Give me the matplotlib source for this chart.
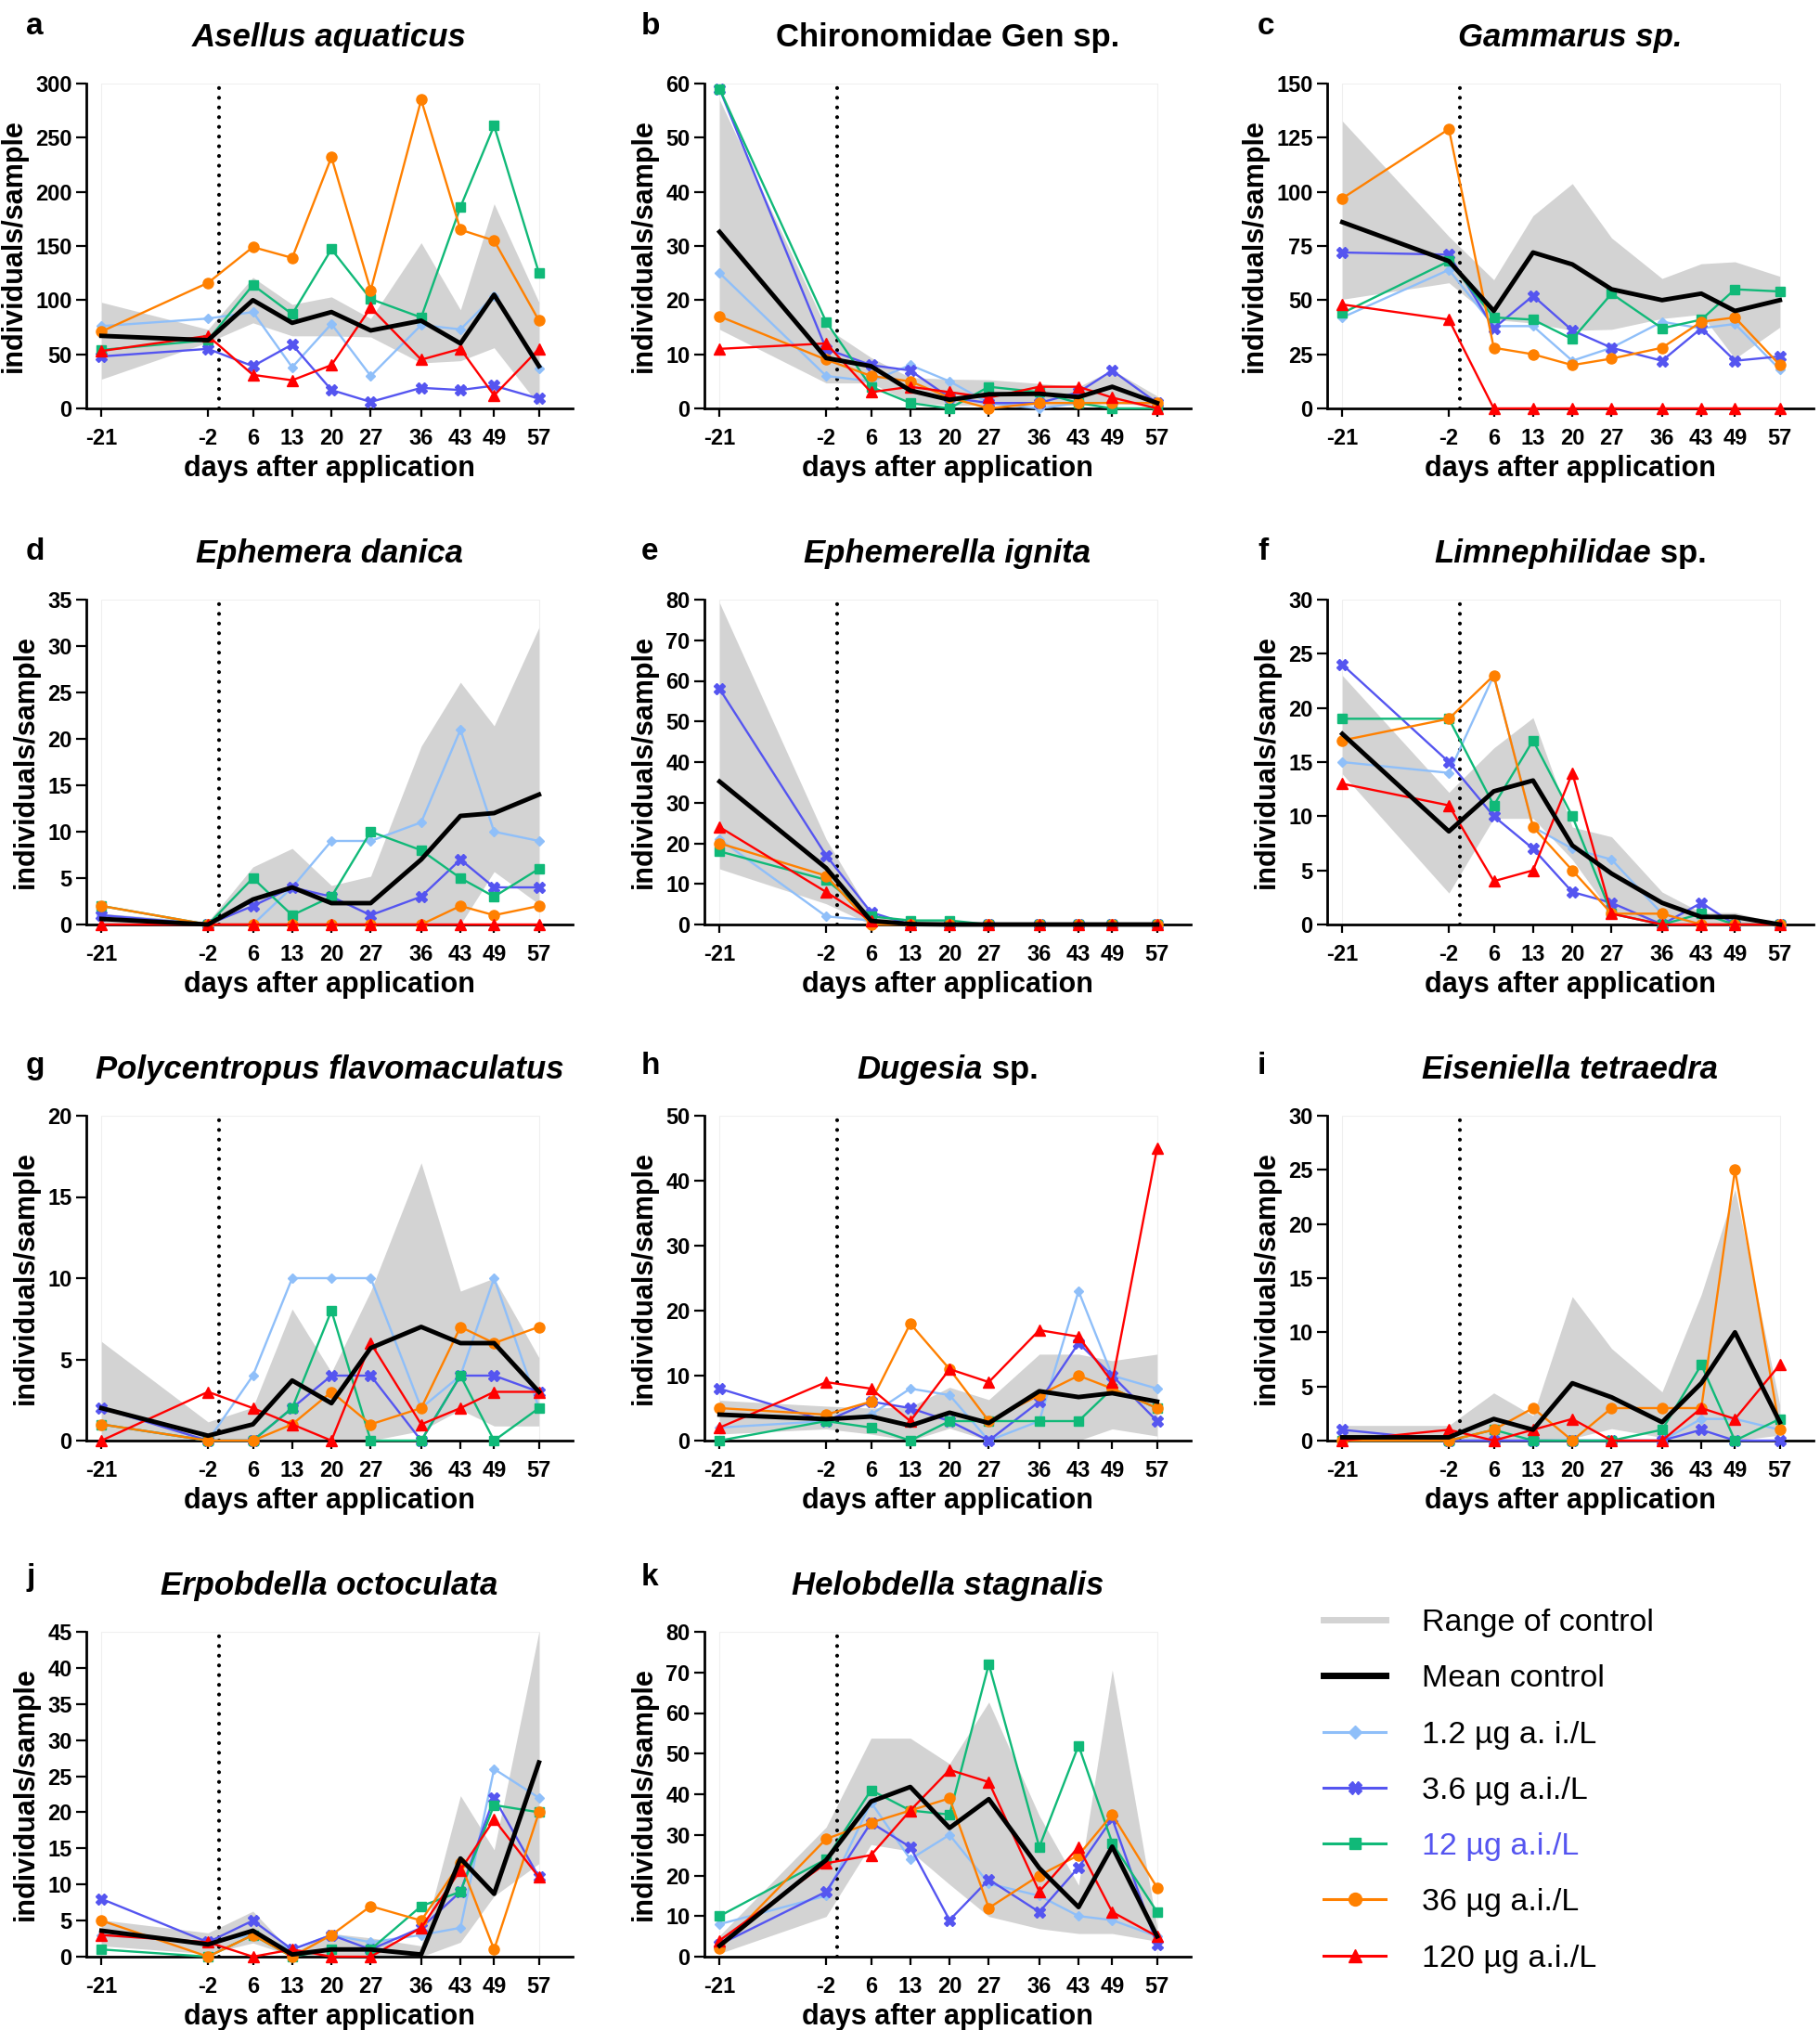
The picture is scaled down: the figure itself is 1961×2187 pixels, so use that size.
import matplotlib
matplotlib.use("Agg")
import matplotlib.pyplot as plt
from matplotlib.lines import Line2D
from matplotlib.patches import Rectangle

# ---------------- data ----------------
DAYS = [-21, -2, 6, 13, 20, 27, 36, 43, 49, 57]
DAY_LABELS = ["-21", "-2", "6", "13", "20", "27", "36", "43", "49", "57"]
SERIES_LABELS = ["Range of control", "Mean control", "1.2 µg a. i./L", "3.6 µg a.i./L",
                 "12 µg a.i./L", "36 µg a.i./L", "120 µg a.i./L"]

# a  Asellus aquaticus
A_LO = [27, 61, 79, 67, 67, 66, 42, 44, 56, 3]
A_HI = [98, 73, 121, 96, 103, 83, 153, 91, 189, 98]
A_MEAN = [67, 63, 100, 79, 89, 72, 81, 60, 105, 39]
A_1_2 = [76, 83, 89, 38, 78, 30, 77, 73, 104, 37]
A_3_6 = [48, 55, 39, 59, 17, 6, 19, 17, 21, 9]
A_12 = [54, 63, 114, 87, 147, 101, 84, 186, 261, 125]
A_36 = [71, 116, 149, 139, 232, 109, 285, 165, 155, 81]
A_120 = [53, 67, 31, 26, 40, 93, 45, 55, 12, 55]

# b  Chironomidae Gen sp.
B_LO = [14.6, 4.7, 4.7, 1.1, 0.6, 0.6, 0.6, 0.6, 1.1, 0.3]
B_HI = [57, 14.9, 9.4, 5.7, 5.4, 5.3, 4.6, 4, 7.1, 2.3]
B_MEAN = [32.6, 9.3, 7.8, 3.3, 1.6, 2.6, 2.7, 2.1, 4, 1]
B_1_2 = [25, 6, 5, 8, 5, 1, 0, 1, 1, 1]
B_3_6 = [59, 11, 8, 7, 2, 1, 1, 3, 7, 1]
B_12 = [59, 16, 4, 1, 0, 4, 3, 1, 0, 0]
B_36 = [17, 9, 6, 5, 2, 0, 1, 1, 1, 1]
B_120 = [11, 12, 3, 4, 3, 2, 4, 4, 2, 0]

# c  Gammarus sp.
C_LO = [50.4, 58, 41, 39.4, 36, 36.5, 41.5, 43.4, 23, 37.5]
C_HI = [132.7, 79.4, 59.4, 89, 103.8, 78.7, 60, 66.8, 67.7, 61]
C_MEAN = [86, 68, 45, 72, 66.5, 55, 50, 53, 45, 50]
C_1_2 = [42, 64, 38, 38, 22, 28, 40, 37, 39, 18]
C_3_6 = [72, 71, 37, 52, 36, 28, 22, 37, 22, 24]
C_12 = [44, 68, 42, 41, 32, 53, 37, 41, 55, 54]
C_36 = [97, 129, 28, 25, 20, 23, 28, 40, 42, 20]
C_120 = [48, 41, 0, 0, 0, 0, 0, 0, 0, 0]

# d  Ephemera danica
D_LO = [0, 0, 0, 0, 0, 0, 0, 0, 5.7, 2.2]
D_HI = [1.2, 0.3, 6.2, 8.2, 4.2, 5.2, 19.2, 26.1, 21.4, 32]
D_MEAN = [0.6, 0, 2.7, 4, 2.3, 2.3, 7, 11.7, 12, 14]
D_1_2 = [1, 0, 0, 4, 9, 9, 11, 21, 10, 9]
D_3_6 = [1, 0, 2, 4, 3, 1, 3, 7, 4, 4]
D_12 = [2, 0, 5, 1, 3, 10, 8, 5, 3, 6]
D_36 = [2, 0, 0, 0, 0, 0, 0, 2, 1, 2]
D_120 = [0, 0, 0, 0, 0, 0, 0, 0, 0, 0]

# e  Ephemerella ignita
E_LO = [13.7, 5.1, 0, 0, 0, 0, 0, 0, 0, 0]
E_HI = [79.2, 21, 2.4, 0.3, 0.3, 0, 0, 0, 0, 0]
E_MEAN = [35.2, 13.9, 0.9, 0.1, 0, 0, 0, 0, 0, 0]
E_1_2 = [21, 2, 1, 0, 0, 0, 0, 0, 0, 0]
E_3_6 = [58, 17, 3, 0, 0, 0, 0, 0, 0, 0]
E_12 = [18, 11, 2, 1, 1, 0, 0, 0, 0, 0]
E_36 = [20, 12, 0, 0, 0, 0, 0, 0, 0, 0]
E_120 = [24, 8, 1, 0, 0, 0, 0, 0, 0, 0]

# f  Limnephilidae sp.
F_LO = [13.9, 2.9, 9.8, 9.8, 6, 1, 0, 0, 0, 0]
F_HI = [23, 12.2, 16.3, 19.1, 9, 8.1, 3, 1.1, 1.1, 0.1]
F_MEAN = [17.6, 8.6, 12.3, 13.3, 7.3, 4.7, 2, 0.7, 0.7, 0]
F_1_2 = [15, 14, 23, 9, 7, 6, 1, 0, 0, 0]
F_3_6 = [24, 15, 10, 7, 3, 2, 0, 2, 0, 0]
F_12 = [19, 19, 11, 17, 10, 1, 0, 1, 0, 0]
F_36 = [17, 19, 23, 9, 5, 1, 1, 0, 0, 0]
F_120 = [13, 11, 4, 5, 14, 1, 0, 0, 0, 0]

# g  Polycentropus flavomaculatus
G_LO = [0, 0, 0, 0, 0, 0, 0.6, 1.9, 0.9, 0.9]
G_HI = [6.1, 1.15, 2.05, 8.1, 4.2, 9.2, 17.1, 9.2, 10, 5.1]
G_MEAN = [2, 0.3, 1, 3.7, 2.3, 5.7, 7, 6, 6, 3]
G_1_2 = [1, 0, 4, 10, 10, 10, 2, 4, 10, 2]
G_3_6 = [2, 0, 0, 2, 4, 4, 0, 4, 4, 3]
G_12 = [1, 0, 0, 2, 8, 0, 0, 4, 0, 2]
G_36 = [1, 0, 0, 1, 3, 1, 2, 7, 6, 7]
G_120 = [0, 3, 2, 1, 0, 6, 1, 2, 3, 3]

# h  Dugesia sp.
H_LO = [1, 1.8, 1, 0, 1.9, 0, 0, 0, 1.8, 0.7]
H_HI = [6.2, 5.3, 5, 5.2, 8.2, 6.3, 13.3, 13.3, 12.3, 13.3]
H_MEAN = [4, 3.3, 3.7, 2.3, 4.3, 2.7, 7.6, 6.7, 7.3, 6]
H_1_2 = [2, 3, 4, 8, 7, 0, 3, 23, 10, 8]
H_3_6 = [8, 3, 6, 5, 3, 0, 6, 15, 10, 3]
H_12 = [0, 3, 2, 0, 3, 3, 3, 3, 8, 5]
H_36 = [5, 4, 6, 18, 11, 3, 7, 10, 8, 5]
H_120 = [2, 9, 8, 3, 11, 9, 17, 16, 9, 45]

# i  Eiseniella tetraedra
I_LO = [0.1, 0.1, 0, 0.1, 0.2, 1.1, 0.3, 0, 0, 0.5]
I_HI = [1.4, 1.4, 4.4, 2.3, 13.3, 8.5, 4.5, 13.5, 23.2, 3.3]
I_MEAN = [0.3, 0.3, 2, 1, 5.3, 4, 1.7, 5.3, 10, 1.7]
I_1_2 = [0, 0, 0, 0, 0, 0, 0, 2, 2, 1]
I_3_6 = [1, 0, 0, 0, 0, 0, 0, 1, 0, 0]
I_12 = [0, 0, 1, 0, 0, 0, 1, 7, 0, 2]
I_36 = [0, 0, 1, 3, 0, 3, 3, 3, 25, 1]
I_120 = [0, 1, 0, 1, 2, 0, 0, 3, 2, 7]

# j  Erpobdella octoculata
J_LO = [1.5, 0.4, 1.9, 0.1, 0.2, 0.2, 0, 2, 8.4, 12.9]
J_HI = [5.1, 3.3, 6.3, 0.6, 3.2, 2.6, 1.5, 22.3, 14.8, 45]
J_MEAN = [3.6, 1.7, 3.6, 0.3, 1, 1, 0.3, 13.6, 8.7, 26.9]
J_1_2 = [3, 2, 3, 1, 3, 2, 3, 4, 26, 22]
J_3_6 = [8, 2, 5, 1, 3, 1, 4, 9, 22, 11]
J_12 = [1, 0, 3, 0, 1, 1, 7, 9, 21, 20]
J_36 = [5, 0, 3, 0, 3, 7, 5, 13, 1, 20]
J_120 = [3, 2, 0, 1, 0, 0, 4, 12, 19, 11]

# k  Helobdella stagnalis
K_LO = [0.8, 9.9, 27.6, 26, 17.8, 9.9, 6.9, 5.7, 5.7, 3.8]
K_HI = [5.2, 31.9, 53.8, 53.8, 47.5, 62.7, 34.7, 17.6, 70.6, 7.3]
K_MEAN = [2.7, 23.8, 38.2, 41.8, 31.7, 38.8, 21.8, 12.2, 27.1, 5]
K_1_2 = [8, 15, 38, 24, 30, 18, 15, 10, 9, 5]
K_3_6 = [3, 16, 33, 27, 9, 19, 11, 22, 34, 3]
K_12 = [10, 24, 41, 36, 35, 72, 27, 52, 28, 11]
K_36 = [2, 29, 33, 36, 39, 12, 20, 25, 35, 17]
K_120 = [4, 23, 25, 36, 46, 43, 16, 27, 11, 5]

# panel: letter, italic title part, upright title part, y max, y step
PANELS = [
    ("a", "Asellus aquaticus", "", 300, 50, A_LO, A_HI, A_MEAN, [A_1_2, A_3_6, A_12, A_36, A_120]),
    ("b", "", "Chironomidae Gen sp.", 60, 10, B_LO, B_HI, B_MEAN, [B_1_2, B_3_6, B_12, B_36, B_120]),
    ("c", "Gammarus sp.", "", 150, 25, C_LO, C_HI, C_MEAN, [C_1_2, C_3_6, C_12, C_36, C_120]),
    ("d", "Ephemera danica", "", 35, 5, D_LO, D_HI, D_MEAN, [D_1_2, D_3_6, D_12, D_36, D_120]),
    ("e", "Ephemerella ignita", "", 80, 10, E_LO, E_HI, E_MEAN, [E_1_2, E_3_6, E_12, E_36, E_120]),
    ("f", "Limnephilidae", " sp.", 30, 5, F_LO, F_HI, F_MEAN, [F_1_2, F_3_6, F_12, F_36, F_120]),
    ("g", "Polycentropus flavomaculatus", "", 20, 5, G_LO, G_HI, G_MEAN, [G_1_2, G_3_6, G_12, G_36, G_120]),
    ("h", "Dugesia", " sp.", 50, 10, H_LO, H_HI, H_MEAN, [H_1_2, H_3_6, H_12, H_36, H_120]),
    ("i", "Eiseniella tetraedra", "", 30, 5, I_LO, I_HI, I_MEAN, [I_1_2, I_3_6, I_12, I_36, I_120]),
    ("j", "Erpobdella octoculata", "", 45, 5, J_LO, J_HI, J_MEAN, [J_1_2, J_3_6, J_12, J_36, J_120]),
    ("k", "Helobdella stagnalis", "", 80, 10, K_LO, K_HI, K_MEAN, [K_1_2, K_3_6, K_12, K_36, K_120]),
]

# ---------------- style ----------------
GRAY = "#D3D3D3"
STYLES = [  # color, marker, markersize
    ("#8FBFF9", "D", 5.5),
    ("#5555F0", "X", 8),
    ("#10B978", "s", 7),
    ("#FF8000", "o", 8),
    ("#FF0000", "^", 8),
]

plt.rcParams["font.family"] = ["Liberation Sans", "DejaVu Sans"]

W, H = 1961, 2187
fig = plt.figure(figsize=(W / 100, H / 100), dpi=100)

COL_LEFT = [93, 759, 1430]
ROW_TOP = [90, 646, 1202, 1758]
AX_W, AX_H = 524, 350
LETTER_X = [28, 691, 1355]
LETTER_BASE = [37, 603, 1157, 1708]

titles = []
for idx, (letter, tit_it, tit_up, ymax, ystep, lo, hi, mean, series) in enumerate(PANELS):
    r, c = divmod(idx, 3)
    left, top = COL_LEFT[c], ROW_TOP[r]
    ax = fig.add_axes([left / W, 1 - (top + AX_H) / H, AX_W / W, AX_H / H])
    # faint plot-area frame spanning the sampling period
    ax.add_patch(Rectangle((DAYS[0], 0), DAYS[-1] - DAYS[0], ymax, fill=False,
                           edgecolor="#EFEFEF", lw=0.8, zorder=0.5))
    ax.fill_between(DAYS, lo, hi, color=GRAY, lw=0, zorder=1)
    ax.axvline(0, color="black", lw=3.0, ls=(0, (0.01, 2.5)), dash_capstyle="round", zorder=2)
    for vals, (col, mk, ms) in zip(series, STYLES):
        ax.plot(DAYS, vals, color=col, lw=1.7, marker=mk, ms=ms, mfc=col, mec=col,
                clip_on=False, zorder=3)
    ax.plot(DAYS, mean, color="black", lw=3.5, zorder=4, clip_on=False)

    ax.set_xlim(-23.7, 63)
    ax.set_ylim(0, ymax)
    ax.set_xticks(DAYS)
    ax.set_xticklabels(DAY_LABELS)
    ax.set_yticks(list(range(0, ymax + 1, ystep)))
    for s in ("top", "right"):
        ax.spines[s].set_visible(False)
    for s in ("left", "bottom"):
        ax.spines[s].set_linewidth(2)
    ax.tick_params(axis="both", direction="out", width=1.6, labelsize=17)
    ax.tick_params(axis="y", length=8, pad=3)
    ax.tick_params(axis="x", length=6.3, pad=9)
    for lab in ax.get_xticklabels() + ax.get_yticklabels():
        lab.set_fontweight("bold")
    ax.set_xlabel("days after application", fontsize=22, fontweight="bold", labelpad=4)
    ax.set_ylabel("individuals/sample", fontsize=22, fontweight="bold", labelpad=6)

    fig.text(LETTER_X[c] / W, 1 - LETTER_BASE[r] / H, letter, fontsize=24, fontweight="bold",
             ha="left", va="baseline")
    titles.append((ax, tit_it, tit_up))

# titles with mixed italic / upright parts, centred over each axes
fig.canvas.draw()
renderer = fig.canvas.get_renderer()
for ax, tit_it, tit_up in titles:
    bb = ax.get_position()
    cx = (bb.x0 + bb.x1) / 2 * W
    ybase = bb.y1 + 40 / H
    parts = []
    if tit_it:
        parts.append(fig.text(0, ybase, tit_it, fontsize=25, fontweight="bold", fontstyle="italic",
                              ha="left", va="baseline"))
    if tit_up:
        parts.append(fig.text(0, ybase, tit_up, fontsize=25, fontweight="bold",
                              ha="left", va="baseline"))
    widths = [p.get_window_extent(renderer).width for p in parts]
    x = cx - sum(widths) / 2
    for p, w in zip(parts, widths):
        p.set_x(x / W)
        x += w

# legend
handles = [Line2D([], [], color=GRAY, lw=5), Line2D([], [], color="black", lw=5)]
for col, mk, ms in STYLES:
    handles.append(Line2D([], [], color=col, lw=2.2, marker=mk, ms=ms * 1.25, mfc=col, mec=col))
leg = fig.legend(handles, SERIES_LABELS, loc="upper left", bbox_to_anchor=(1426 / W, 1 - 1733 / H),
                 frameon=False, fontsize=24.5, handlelength=1.97, handletextpad=1.15,
                 labelspacing=0.86, borderpad=0, borderaxespad=0)
leg.get_texts()[4].set_color("#5555F0")

fig.savefig("out.png", dpi=100)
